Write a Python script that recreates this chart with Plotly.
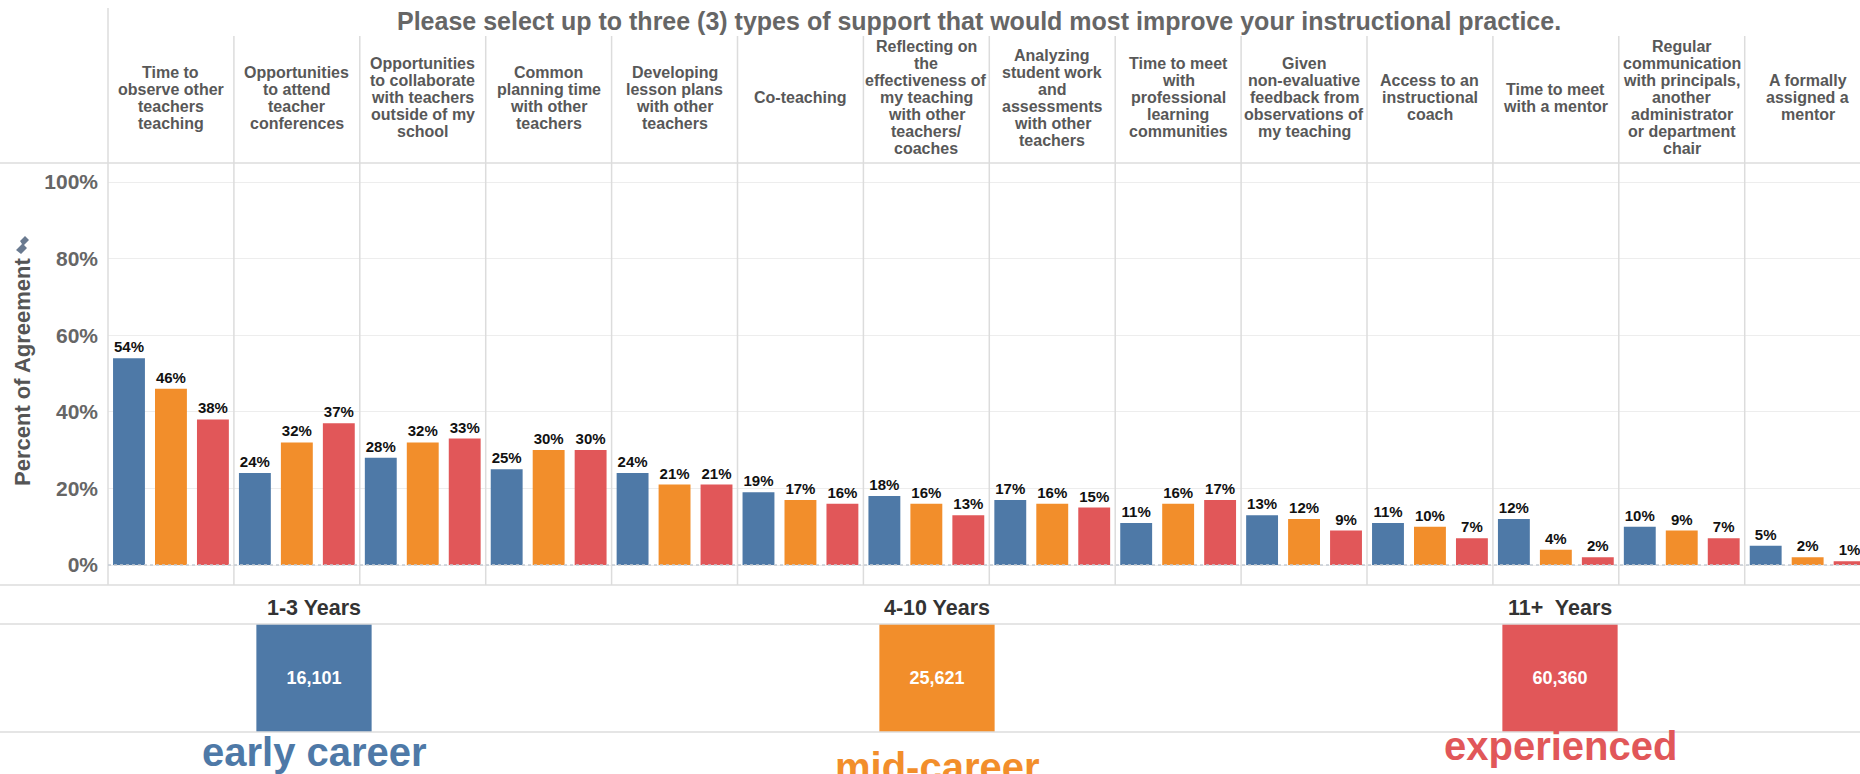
import plotly.graph_objects as go

# ---------------- data ----------------
categories = [
    "Time to<br>observe other<br>teachers<br>teaching",
    "Opportunities<br>to attend<br>teacher<br>conferences",
    "Opportunities<br>to collaborate<br>with teachers<br>outside of my<br>school",
    "Common<br>planning time<br>with other<br>teachers",
    "Developing<br>lesson plans<br>with other<br>teachers",
    "Co-teaching",
    "Reflecting on<br>the<br>effectiveness of<br>my teaching<br>with other<br>teachers/<br>coaches",
    "Analyzing<br>student work<br>and<br>assessments<br>with other<br>teachers",
    "Time to meet<br>with<br>professional<br>learning<br>communities",
    "Given<br>non-evaluative<br>feedback from<br>observations of<br>my teaching",
    "Access to an<br>instructional<br>coach",
    "Time to meet<br>with a mentor",
    "Regular<br>communication<br>with principals,<br>another<br>administrator<br>or department<br>chair",
    "A formally<br>assigned a<br>mentor",
]
early_career = [54, 24, 28, 25, 24, 19, 18, 17, 11, 13, 11, 12, 10, 5]
mid_career = [46, 32, 32, 30, 21, 17, 16, 16, 16, 12, 10, 4, 9, 2]
experienced = [38, 37, 33, 30, 21, 16, 13, 15, 17, 9, 7, 2, 7, 1]
groups = ["1-3 Years", "4-10 Years", "11+  Years"]
group_counts = [16101, 25621, 60360]
career_labels = ["early career", "mid-career", "experienced"]
y_ticks = [0, 20, 40, 60, 80, 100]
y_tick_text = [f"{t}%" for t in y_ticks]
title = "Please select up to three (3) types of support that would most improve your instructional practice."

# ---------------- style ----------------
W, H = 1860, 774
COLORS = ["#4E79A7", "#F28E2B", "#E15759"]
FONT = "Liberation Sans, Arial, Helvetica, sans-serif"
GRAY = "#666666"
LINE = "#dcdcdc"


def px(x):
    return x / W


def py(y):
    return 1 - y / H


COL_W = 125.9
LEFT = 108
top_range = [-0.5, -0.5 + (W - LEFT) / COL_W]
GRP_W = 623
GRP_LEFT = 2.5
bot_range = [-0.5, -0.5 + (W - GRP_LEFT) / GRP_W]

fig = go.Figure()

series = [early_career, mid_career, experienced]
for vals, name, col in zip(series, groups, COLORS):
    fig.add_trace(go.Bar(
        x=categories, y=vals, name=name, marker=dict(color=col, line=dict(width=0)),
        text=[f"{v}%" for v in vals], textposition="outside", constraintext="none",
        textfont=dict(family=FONT, size=15, color="#111111", weight="bold"),
        cliponaxis=False, xaxis="x", yaxis="y", showlegend=False,
    ))

fig.add_trace(go.Bar(
    x=groups, y=[1] * len(group_counts), width=0.185,
    text=[f"{c:,}" for c in group_counts], textposition="inside",
    insidetextanchor="middle", constraintext="none",
    textfont=dict(family=FONT, size=18, color="white", weight="bold"),
    marker=dict(color=COLORS, line=dict(width=0)),
    xaxis="x2", yaxis="y2", showlegend=False,
))

annotations = []
# title
annotations.append(dict(
    text=title, x=px(979), y=py(21), xref="paper", yref="paper",
    showarrow=False, xanchor="center", yanchor="middle",
    font=dict(family=FONT, size=25, color=GRAY, weight="bold"),
))
# header labels (line by line for tight leading)
LEAD = 17.0
for cat in categories:
    lines = cat.split("<br>")
    n = len(lines)
    for k, ln in enumerate(lines):
        yc = 98 + (k - (n - 1) / 2) * LEAD
        annotations.append(dict(
            text=ln, x=cat, xref="x", y=py(yc), yref="paper",
            showarrow=False, xanchor="center", yanchor="middle",
            font=dict(family=FONT, size=16, color="#585858", weight="bold"),
        ))
# y axis title
annotations.append(dict(
    text="Percent of Agreement", x=px(22), y=py(372), xref="paper", yref="paper",
    showarrow=False, textangle=-90, xanchor="center", yanchor="middle",
    font=dict(family=FONT, size=22, color="#555555", weight="bold"),
))
# group headers
for g in groups:
    annotations.append(dict(
        text=g, x=g, xref="x2", y=py(608), yref="paper",
        showarrow=False, xanchor="center", yanchor="middle",
        font=dict(family=FONT, size=21.5, color="#333333", weight="bold"),
    ))
# career labels
career_y = [752, 767, 746]
for g, lab, col, yy in zip(groups, career_labels, COLORS, career_y):
    annotations.append(dict(
        text=lab, x=g, xref="x2", y=py(yy), yref="paper",
        showarrow=False, xanchor="center", yanchor="middle",
        font=dict(family=FONT, size=40, color=col, weight="bold"),
    ))

shapes = []
# horizontal pane lines
for yy in [163, 585, 624, 732]:
    shapes.append(dict(type="line", xref="paper", yref="paper", x0=0, x1=1,
                       y0=py(yy), y1=py(yy), line=dict(color=LINE, width=1.5)))
# left vertical line
shapes.append(dict(type="line", xref="paper", yref="paper", x0=px(LEFT), x1=px(LEFT),
                   y0=py(585), y1=py(8), line=dict(color=LINE, width=1.5)))
# column dividers
for i in range(1, len(categories)):
    xb = LEFT + i * COL_W
    shapes.append(dict(type="line", xref="paper", yref="paper", x0=px(xb), x1=px(xb),
                       y0=py(585), y1=py(36), line=dict(color=LINE, width=1.5)))
# dotted zero line
shapes.append(dict(type="line", xref="paper", yref="y", x0=px(LEFT), x1=1, y0=0, y1=0,
                   line=dict(color="#c5ccd4", width=1.5, dash="dot")))
# small pin icon next to the axis title
shapes.append(dict(type="path", xref="paper", yref="paper",
                   path=(f"M {px(16)},{py(250)} L {px(22)},{py(244)} L {px(20)},{py(241)} "
                         f"L {px(25)},{py(236)} L {px(29)},{py(240)} L {px(24)},{py(245)} "
                         f"L {px(27)},{py(248)} L {px(21)},{py(254)} Z"),
                   fillcolor="#6a7a90", line=dict(width=0)))

fig.update_layout(
    width=W, height=H, margin=dict(l=0, r=0, t=0, b=0),
    paper_bgcolor="white", plot_bgcolor="white",
    barmode="group", bargap=0, bargroupgap=0.24,
    font=dict(family=FONT),
    xaxis=dict(domain=[px(LEFT), 1], range=top_range, showticklabels=False,
               showgrid=False, zeroline=False, showline=False, fixedrange=True),
    yaxis=dict(domain=[py(585), py(163)], range=[-5.22, 104.96], tickvals=y_ticks,
               ticktext=y_tick_text, showgrid=True, gridcolor="#ededed", gridwidth=1,
               zeroline=False, showline=False, ticklabelstandoff=9,
               tickfont=dict(family=FONT, size=21, color=GRAY, weight="bold")),
    xaxis2=dict(domain=[px(GRP_LEFT), 1], range=bot_range, showticklabels=False,
                showgrid=False, zeroline=False, showline=False, anchor="y2"),
    yaxis2=dict(domain=[py(732), py(624)], range=[0, 1], showticklabels=False,
                showgrid=False, zeroline=False, showline=False, anchor="x2"),
    annotations=annotations, shapes=shapes,
)

fig.write_html("out.html")
